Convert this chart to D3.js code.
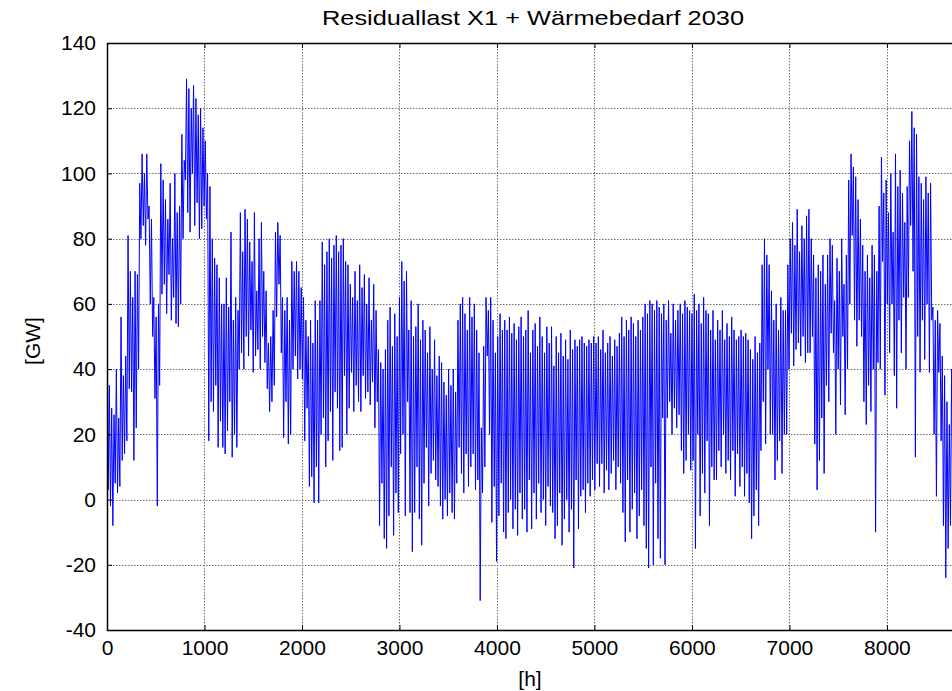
<!DOCTYPE html>
<meta charset="utf-8">
<script src="https://d3js.org/d3.v7.min.js"></script>
<style>
  body { margin: 0; background: #fff; }
  text { font-family: Arial, "Liberation Sans", sans-serif; }
</style>
<div id="chart"></div>
<script>

// residual load, one value every 12 h (alternating highs and lows), in GW
const stepHours = 12;
const residual = [
  // 0 - 228 h
  60, 3, 35, -2, 28, -8, 26, 5, 40, 2, 25, 4, 56, 12, 38, 14, 44, 18, 81, 34,
  // 240 h
  70, 33, 62, 12, 70, 22, 69, 40, 97, 80, 106, 84, 100, 78, 106, 86, 90, 60, 86, 50,
  // 480 h
  62, 31, 56, -2, 60, 35, 103, 63, 98, 66, 92, 57, 86, 69, 97, 55, 80, 62, 100, 54,
  // 720 h
  88, 53, 90, 60, 112, 80, 104, 98, 129, 88, 126, 82, 120, 100, 127, 84, 123, 91, 118, 80,
  // 960 h
  120, 83, 114, 90, 110, 86, 100, 18, 96, 30, 80, 27, 74, 35, 72, 16, 68, 24, 60, 16,
  // 1200 h
  60, 14, 68, 21, 59, 30, 82, 13, 55, 20, 62, 16, 58, 40, 88, 45, 76, 40, 89, 50,
  // 1440 h
  86, 44, 79, 52, 73, 39, 88, 44, 64, 46, 80, 40, 85, 50, 70, 42, 64, 34, 48, 27,
  // 1680 h
  50, 30, 58, 35, 82, 56, 85, 66, 81, 45, 62, 19, 58, 30, 62, 17, 55, 20, 73, 40,
  // 1920 h
  70, 44, 73, 37, 70, 40, 65, 37, 62, 18, 55, 28, 50, 4, 55, 7, 48, -1, 61, 10,
  // 2160 h
  55, -1, 61, 20, 79, 25, 72, 10, 76, 18, 80, 27, 74, 12, 78, 33, 81, 28, 76, 15,
  // 2400 h
  78, 16, 80, 38, 73, 20, 72, 28, 66, 39, 62, 27, 70, 35, 61, 30, 72, 27, 65, 38,
  // 2640 h
  69, 31, 60, 33, 68, 29, 55, 36, 66, 22, 58, 30, 46, -8, 42, 5, 40, -12, 46, -15,
  // 2880 h
  55, -5, 59, 10, 47, -11, 57, 2, 50, -4, 62, 14, 73, 20, 67, -5, 70, 30, 52, -4,
  // 3120 h
  61, -16, 50, -4, 53, 10, 60, -6, 49, -14, 55, 5, 52, 16, 45, -2, 53, 8, 40, 12,
  // 3360 h
  49, 6, 38, 4, 44, -2, 42, -6, 36, 0, 32, -5, 40, 2, 35, -4, 40, -6, 33, 5,
  // 3600 h
  55, 16, 60, 8, 62, 2, 57, 14, 52, 4, 62, 10, 56, 14, 60, 3, 52, 6, 45, -31,
  // 3840 h
  22, 2, 47, 10, 62, 44, 58, 20, 62, -7, 55, 4, 45, -19, 50, -5, 57, 5, 52, -10,
  // 4080 h
  55, -12, 52, -4, 56, 0, 51, -9, 54, -3, 49, -11, 53, 2, 56, -6, 50, -3, 52, -10,
  // 4320 h
  58, 6, 45, -9, 52, 2, 54, -6, 47, 5, 56, -4, 50, 0, 45, -8, 53, 4, 48, -2,
  // 4560 h
  53, -4, 41, -12, 50, -8, 45, 2, 51, -14, 44, -6, 49, 0, 43, -10, 52, -3, 46, -21,
  // 4800 h
  49, 6, 47, -9, 49, 1, 50, 3, 48, -4, 47, 5, 49, 1, 48, 6, 50, 3, 48, 11,
  // 5040 h
  50, 4, 46, 11, 52, 2, 45, 9, 48, 3, 50, 8, 44, 12, 49, 3, 47, 10, 51, 5,
  // 5280 h
  56, -4, 50, -13, 55, 6, 52, -10, 56, -3, 54, 2, 50, -12, 55, -5, 52, 3, 56, -8,
  // 5520 h
  60, -15, 57, -21, 61, 10, 60, -20, 58, 5, 61, -12, 59, -18, 57, 25, 60, -20, 55, 25,
  // 5760 h
  61, 30, 51, 20, 60, 28, 55, 22, 58, 26, 60, 15, 57, 8, 61, 12, 59, 20, 58, 9,
  // 6000 h
  57, 12, 63, -15, 58, 20, 60, -5, 54, 8, 62, 2, 58, 18, 57, -8, 52, 10, 58, 6,
  // 6240 h
  49, 6, 55, 15, 52, 10, 58, 20, 49, 8, 54, 12, 50, 6, 56, 15, 52, 1, 49, 14,
  // 6480 h
  50, 4, 52, 10, 50, 1, 51, 8, 49, -1, 46, -12, 43, -5, 50, 3, 45, -8, 48, 15,
  // 6720 h
  72, 30, 80, 17, 75, 40, 72, 20, 64, 20, 55, 6, 60, 12, 52, 18, 62, 8, 58, 20,
  // 6960 h
  58, 20, 72, 40, 80, 51, 85, 41, 78, 46, 89, 48, 76, 44, 84, 50, 80, 42, 87, 45,
  // 7200 h
  89, 45, 80, 50, 75, 17, 68, 3, 72, 12, 70, 25, 75, 8, 66, 35, 75, 30, 80, 51,
  // 7440 h
  78, 45, 61, 20, 74, 40, 70, 29, 80, 50, 66, 26, 75, 40, 98, 60, 106, 81, 102, 55,
  // 7680 h
  99, 47, 92, 55, 86, 50, 78, 30, 70, 23, 75, 35, 68, 27, 78, 40, 75, -10, 70, 42,
  // 7920 h
  90, 40, 105, 73, 94, 32, 98, 60, 88, 45, 100, 60, 82, 38, 106, 28, 96, 55, 101, 45,
  // 8160 h
  94, 62, 85, 40, 96, 62, 110, 84, 119, 70, 114, 13, 112, 50, 99, 39, 97, 55, 92, 43,
  // 8400 h
  99, 60, 94, 39, 97, 55, 59, 20, 55, 1, 58, 39, 54, 18, 44, -8, 38, -24, 30, -15,
  // 8640 - 8748 h
  23, -8, 40, 2, 35, 10, 40, 5, 38, 12
];

const xTicks = [0, 1000, 2000, 3000, 4000, 5000, 6000, 7000, 8000];
const yTicks = [-40, -20, 0, 20, 40, 60, 80, 100, 120, 140];
const xDomain = [0, 8760];
const yDomain = [-40, 140];

const title = "Residuallast X1 + Wärmebedarf 2030";
const xLabel = "[h]";
const yLabel = "[GW]";

// page and plot box
const W = 952, H = 691;
const box = {left: 107, top: 43, right: 961, bottom: 630};

const svg = d3.select("#chart")
  .append("svg")
    .attr("width", W)
    .attr("height", H);

const x = d3.scaleLinear().domain(xDomain).range([box.left, box.right]);
const y = d3.scaleLinear().domain(yDomain).range([box.bottom, box.top]);

// dotted grid
const grid = svg.append("g")
  .attr("stroke", "#6e6e6e")
  .attr("stroke-width", 1)
  .attr("stroke-dasharray", "1.5,1.5");
grid.selectAll("line.v")
  .data(xTicks.filter(d => d > 0))
  .join("line")
    .attr("class", "v")
    .attr("x1", d => Math.round(x(d)) + 0.5)
    .attr("x2", d => Math.round(x(d)) + 0.5)
    .attr("y1", box.top)
    .attr("y2", box.bottom);
grid.selectAll("line.h")
  .data(yTicks.filter(d => d > yDomain[0] && d < yDomain[1]))
  .join("line")
    .attr("class", "h")
    .attr("x1", box.left)
    .attr("x2", box.right)
    .attr("y1", d => Math.round(y(d)) + 0.5)
    .attr("y2", d => Math.round(y(d)) + 0.5);

// the series
svg.append("clipPath")
  .attr("id", "plotclip")
  .append("rect")
    .attr("x", box.left)
    .attr("y", box.top)
    .attr("width", box.right - box.left)
    .attr("height", box.bottom - box.top);

const line = d3.line()
  .x((d, i) => x(i * stepHours))
  .y(d => y(d));

svg.append("path")
  .datum(residual)
  .attr("clip-path", "url(#plotclip)")
  .attr("fill", "none")
  .attr("stroke", "#0000ff")
  .attr("stroke-width", 1)
  .attr("d", line);

// axes, MATLAB style: ticks pointing inwards, plain hyphen minus
const fontSize = "21px";
const fmt = d => String(d);

const xAxis = svg.append("g")
  .attr("transform", `translate(0,${box.bottom})`)
  .call(d3.axisBottom(x).tickValues(xTicks).tickSize(-5).tickPadding(10).tickFormat(fmt));
xAxis.select(".domain").remove();
xAxis.selectAll("text").attr("font-size", fontSize).attr("fill", "#000");

const xTop = svg.append("g")
  .attr("transform", `translate(0,${box.top})`)
  .call(d3.axisTop(x).tickValues(xTicks).tickSize(-5).tickFormat(""));
xTop.select(".domain").remove();

const yAxis = svg.append("g")
  .attr("transform", `translate(${box.left},0)`)
  .call(d3.axisLeft(y).tickValues(yTicks).tickSize(-5).tickPadding(11).tickFormat(fmt));
yAxis.select(".domain").remove();
yAxis.selectAll("text").attr("font-size", fontSize).attr("fill", "#000");

svg.selectAll(".tick line").attr("stroke", "#000");

// axes box
svg.append("rect")
  .attr("x", box.left + 0.5)
  .attr("y", box.top + 0.5)
  .attr("width", box.right - box.left)
  .attr("height", box.bottom - box.top)
  .attr("fill", "none")
  .attr("stroke", "#000")
  .attr("stroke-width", 1.5);

// labels
svg.append("text")
  .attr("x", 533)
  .attr("y", 25)
  .attr("text-anchor", "middle")
  .attr("font-size", "21px")
  .attr("textLength", 422)
  .attr("lengthAdjust", "spacingAndGlyphs")
  .text(title);

svg.append("text")
  .attr("x", 530)
  .attr("y", 686)
  .attr("text-anchor", "middle")
  .attr("font-size", fontSize)
  .text(xLabel);

svg.append("text")
  .attr("transform", "translate(40,341) rotate(-90)")
  .attr("text-anchor", "middle")
  .attr("font-size", fontSize)
  .text(yLabel);

</script>
